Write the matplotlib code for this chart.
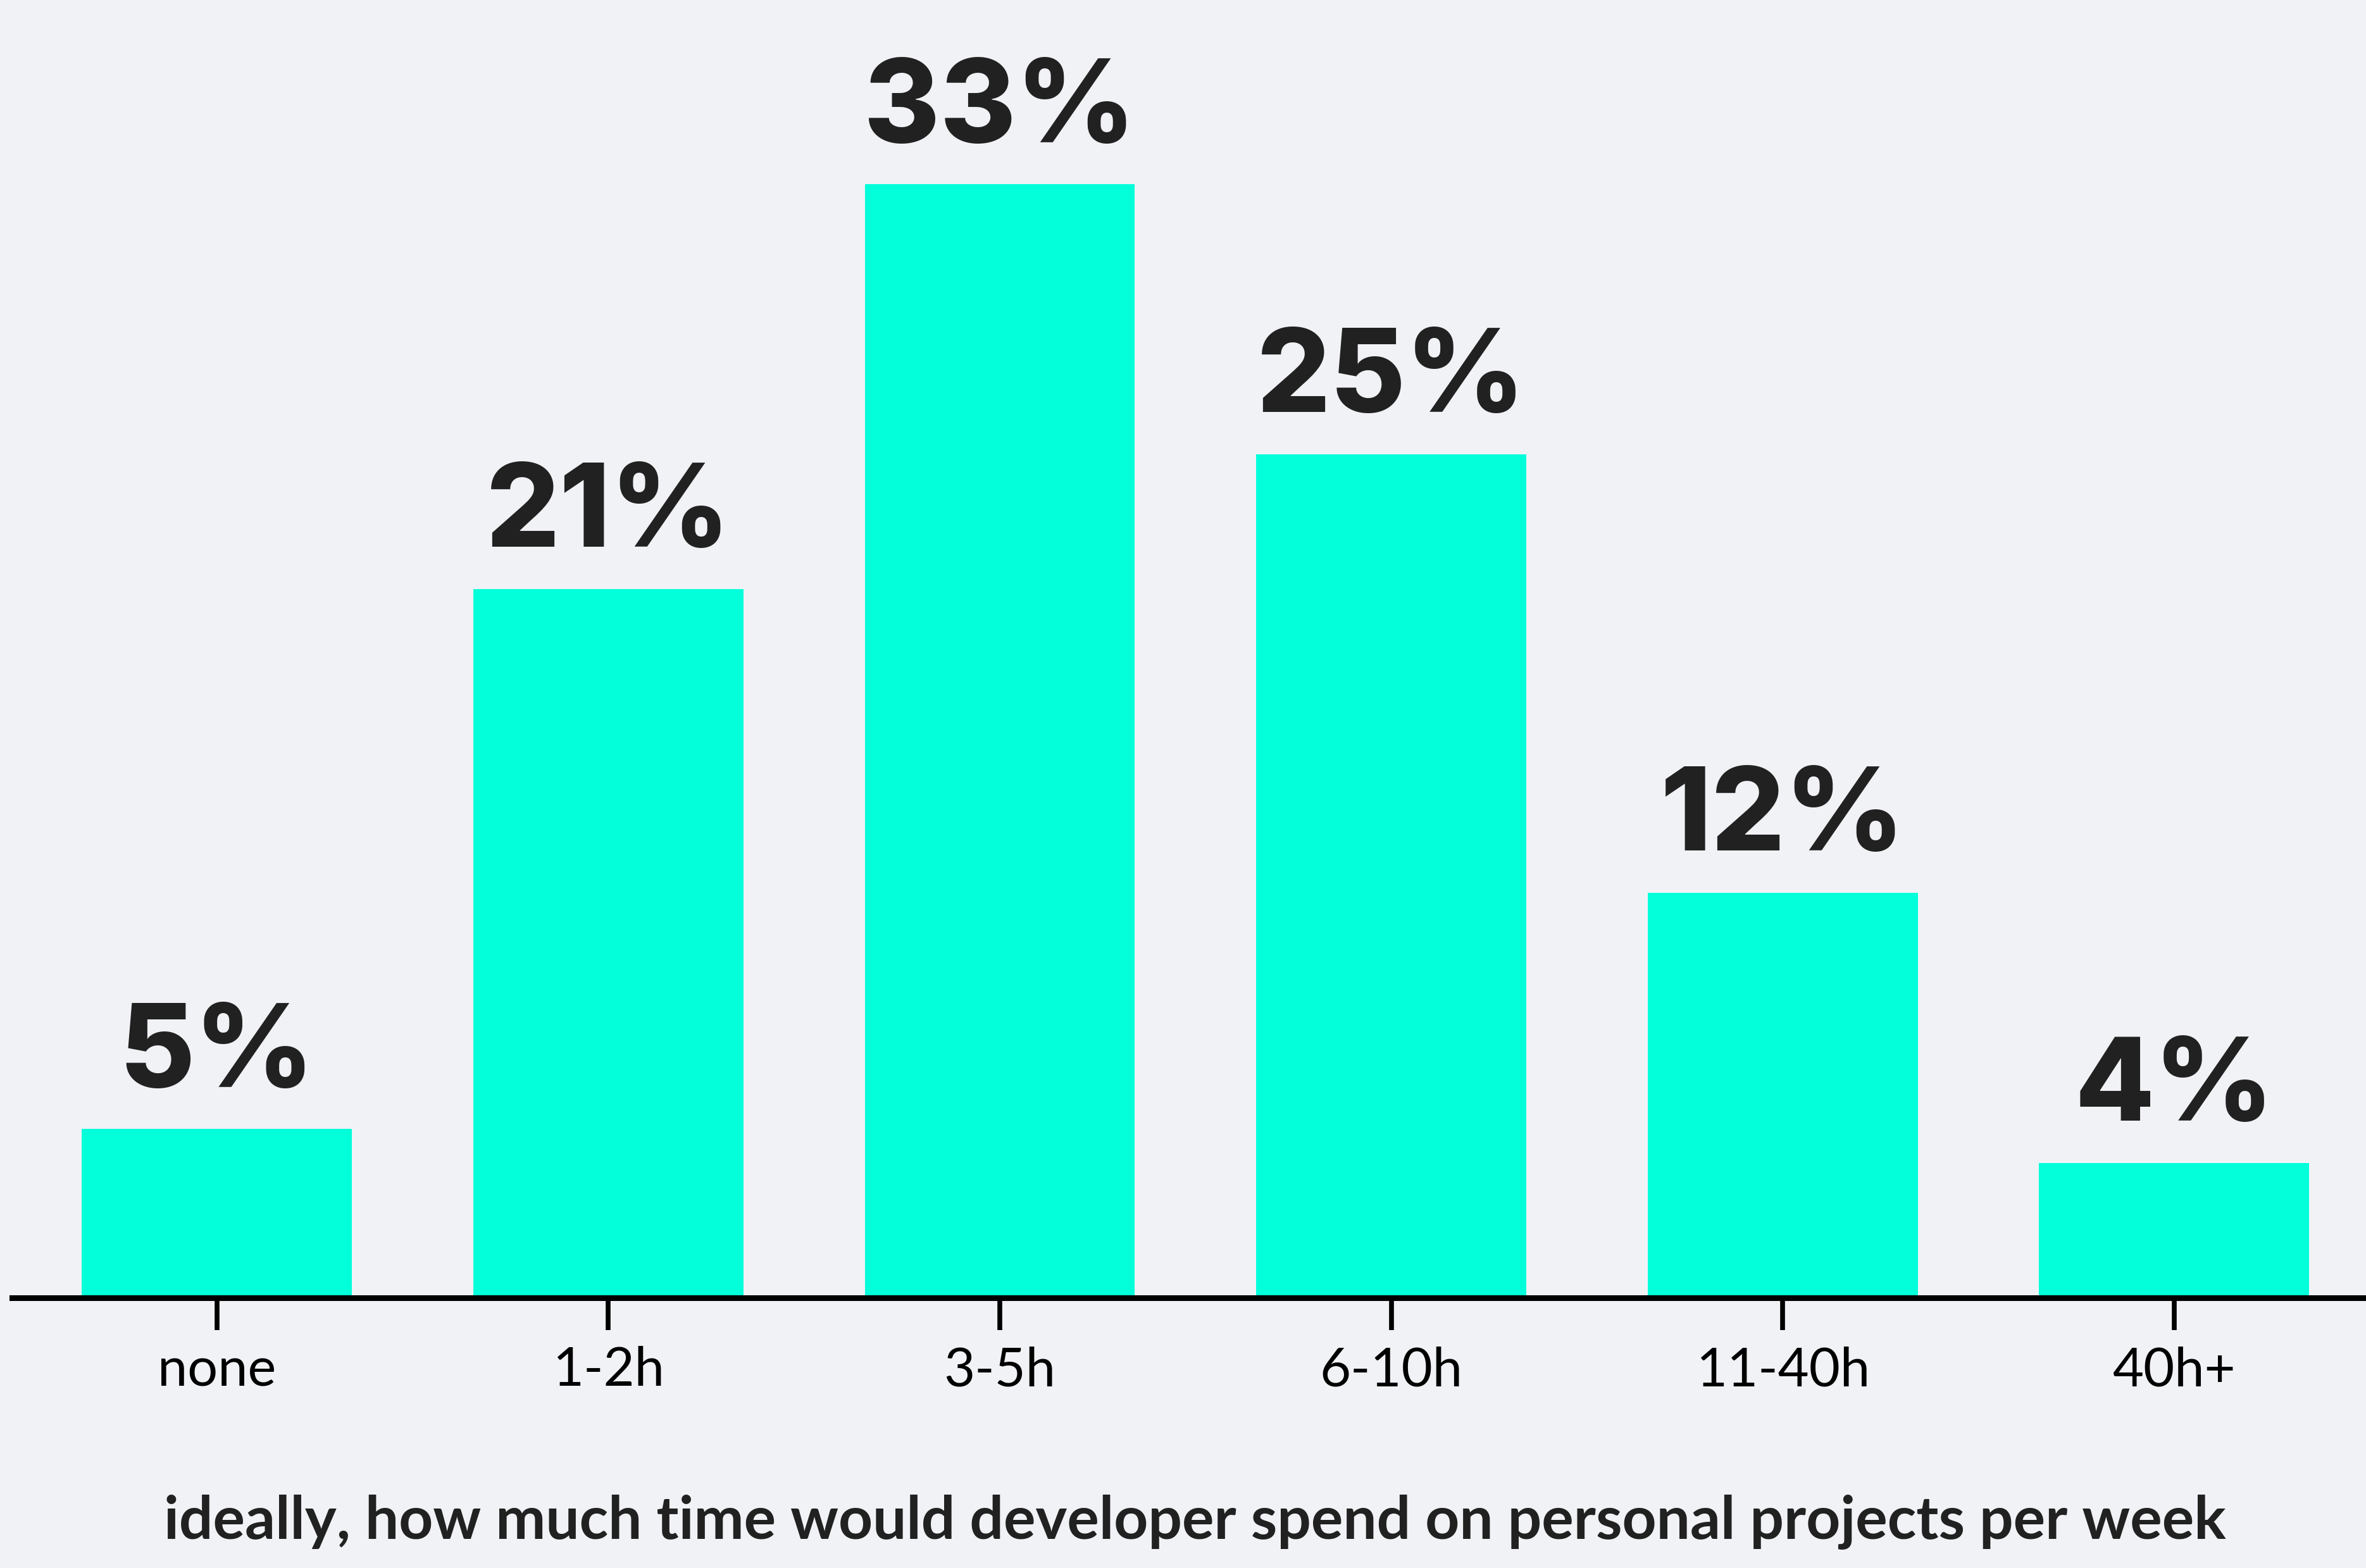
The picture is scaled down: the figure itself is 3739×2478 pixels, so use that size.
import matplotlib
matplotlib.use("Agg")
import matplotlib.pyplot as plt

categories = ["none", "1-2h", "3-5h", "6-10h", "11-40h", "40h+"]
values = [5, 21, 33, 25, 12, 4]
value_labels = ["5%", "21%", "33%", "25%", "12%", "4%"]
xlabel_text = "ideally, how much time would developer spend on personal projects per week"

BG = "#F1F2F6"
BAR = "#02FFDA"
TXT = "#212121"

fig = plt.figure(figsize=(37.39, 24.78), dpi=100, facecolor=BG)
ax = fig.add_axes([0.005, 0.1723, 0.995, 0.8277])
ax.set_facecolor(BG)

x = list(range(len(categories)))
bars = ax.bar(x, values, width=0.69, color=BAR, zorder=1)

for xi, v, lab in zip(x, values, value_labels):
    ax.annotate(lab, (xi, v), xytext=(0, 48), textcoords="offset points",
                ha="center", va="baseline", fontsize=132, fontfamily="Inter",
                fontweight="heavy", color=TXT)

ax.set_xlim(-0.524, 5.49)
ax.set_ylim(0, 38.46)
for s in ["top", "right", "left"]:
    ax.spines[s].set_visible(False)
ax.spines["bottom"].set_linewidth(6.5)
ax.spines["bottom"].set_color("black")
ax.spines["bottom"].set_zorder(3)
ax.set_yticks([])
ax.set_xticks(x)
ax.set_xticklabels(categories, fontsize=61, fontfamily="Lato", color="black")
ax.tick_params(axis="x", length=37, width=5.5, color="black", pad=18)

fig.text(0.505, 0.0186, xlabel_text, ha="center", va="baseline",
         fontsize=68, fontfamily="Lato", fontweight="bold", color=TXT)

fig.savefig("out.png", dpi=100, facecolor=BG)
